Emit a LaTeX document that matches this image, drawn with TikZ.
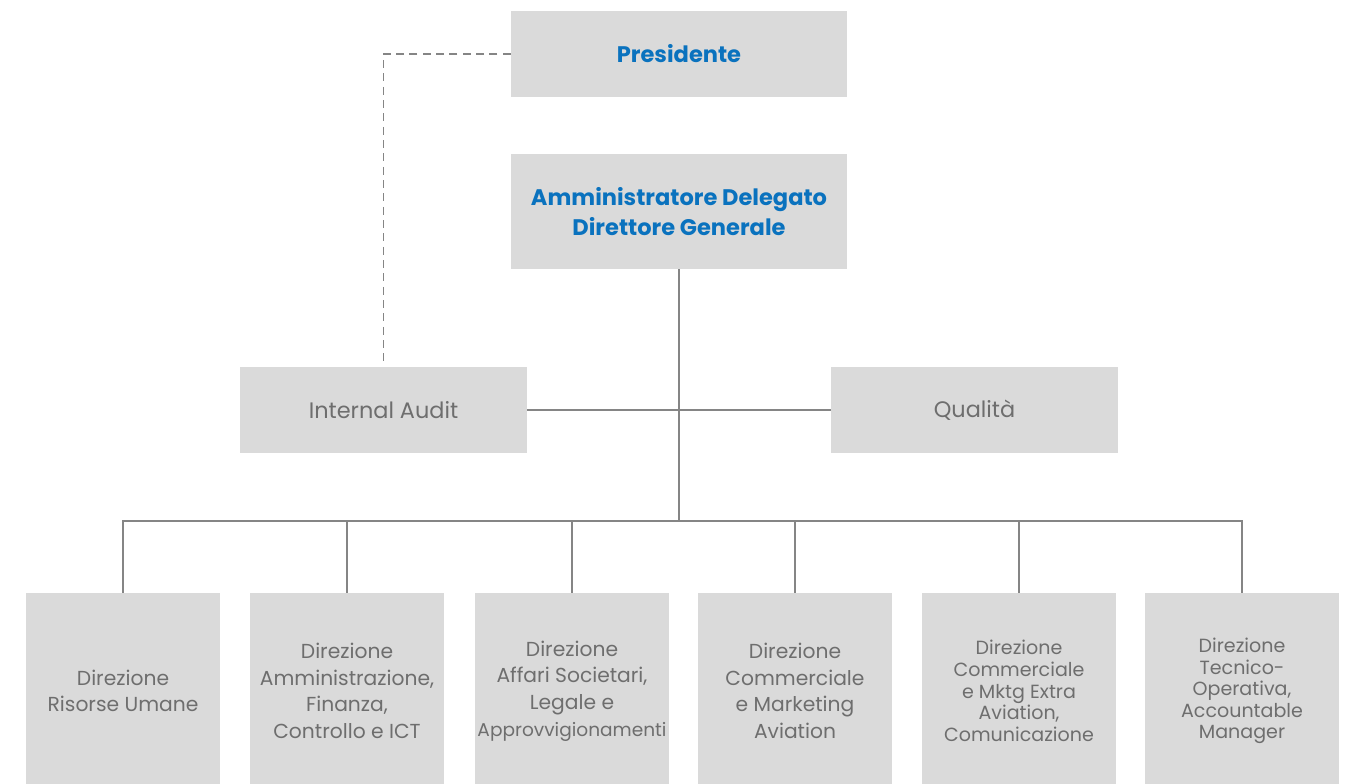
\documentclass[tikz,border=0pt]{standalone}
\usepackage{fontspec}
\setmainfont{Poppins}
\definecolor{boxgray}{HTML}{DADADA}
\definecolor{txtgray}{HTML}{6E6E6E}
\definecolor{tblue}{HTML}{0A72BE}
\definecolor{lgray}{HTML}{858585}
\begin{document}
\begin{tikzpicture}[x=0.75pt,y=-0.75pt,
  box/.style={fill=boxgray,inner sep=0pt,align=center,text=txtgray,font=\fontsize{15.2}{20}\selectfont},
  topbox/.style={box,minimum width=252pt,text=tblue,font=\fontsize{16.9}{22.5}\selectfont\bfseries},
  midbox/.style={box,minimum width=215.25pt,minimum height=64.5pt,font=\fontsize{16.8}{20}\selectfont},
  dirbox/.style={box,minimum width=145.5pt,minimum height=147pt},
  tight/.style={font=\fontsize{14.3}{16.2}\selectfont},
  conn/.style={draw=lgray,line width=1.1pt}]
\useasboundingbox (0,0) rectangle (1348,783);
\node[topbox,minimum height=64.5pt] (pres) at (679,54) {Presidente};
\node[topbox,minimum height=86.25pt] (ad) at (679,211.5) {Amministratore Delegato\\Direttore Generale};
\node[midbox] (ia) at (383.5,410) {Internal Audit};
\node[midbox] (qu) at (974.5,410) {Qualità};
\node[dirbox] (d1) at (123,691) {Direzione\\Risorse Umane};
\node[dirbox] (d2) at (347,691) {Direzione\\Amministrazione,\\Finanza,\\Controllo e ICT};
\node[dirbox] (d3) at (572,691) {Direzione\\Affari Societari,\\Legale e\\\resizebox{141.75pt}{!}{Approvvigionamenti}};
\node[dirbox] (d4) at (795,691) {Direzione\\Commerciale\\e Marketing\\Aviation};
\node[dirbox,tight] (d5) at (1019,691) {Direzione\\Commerciale\\e Mktg Extra\\Aviation,\\Comunicazione};
\node[dirbox,tight] (d6) at (1242,691) {Direzione\\Tecnico-\\Operativa,\\Accountable\\Manager};
\coordinate (bus) at (679,521);
\draw[conn] (ad.south) -- (bus);
\draw[conn] (ia.east) -- (qu.west);
\draw[conn] (d1.north) |- (d6.north |- bus) -- (d6.north);
\foreach \n in {d2,d3,d4,d5}{\draw[conn] (\n.north) -- (\n.north |- bus);}
\draw[conn,dashed,dash pattern=on 6pt off 4pt] (pres.west) -| (ia.north);
\end{tikzpicture}
\end{document}
